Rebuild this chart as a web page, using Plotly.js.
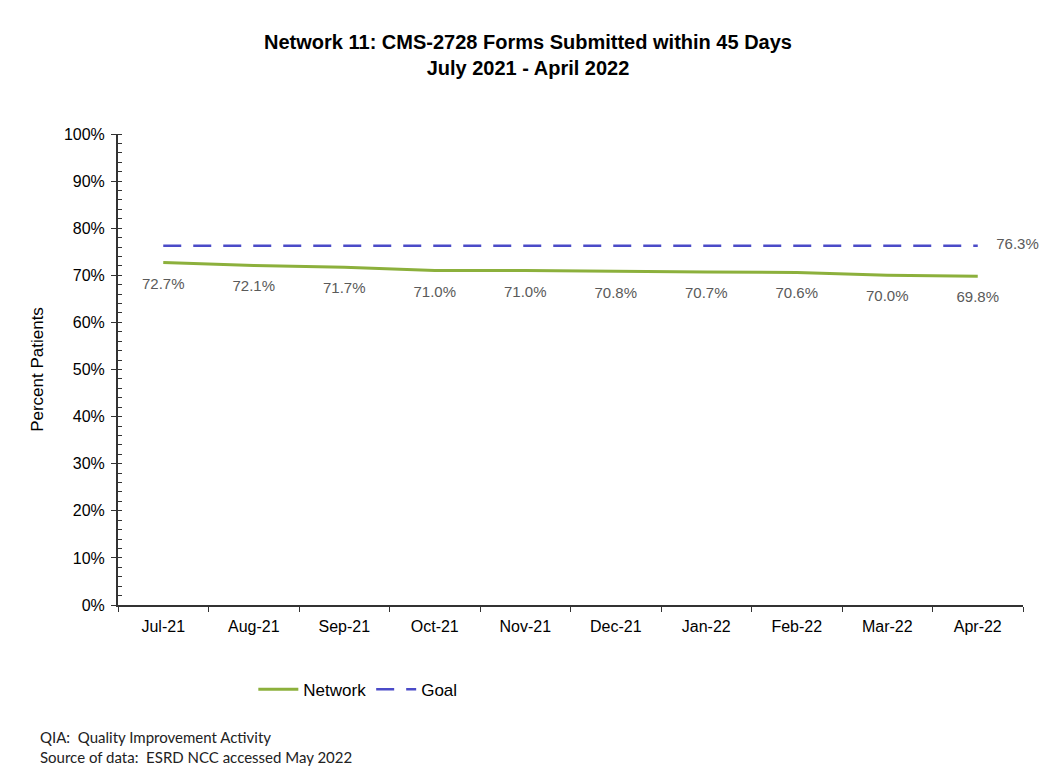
<!DOCTYPE html>
<html>
<head>
<meta charset="utf-8">
<script src="https://cdn.plot.ly/plotly-3.0.1.min.js"></script>
<style>
html,body{margin:0;padding:0;background:#fff;}
#chart{width:1056px;height:772px;}
</style>
</head>
<body>
<div id="chart"></div>
<script>
const months = ["Jul-21","Aug-21","Sep-21","Oct-21","Nov-21","Dec-21","Jan-22","Feb-22","Mar-22","Apr-22"];
const networkValues = [72.7, 72.1, 71.7, 71.0, 71.0, 70.8, 70.7, 70.6, 70.0, 69.8];
const goalValues = [76.3, 76.3, 76.3, 76.3, 76.3, 76.3, 76.3, 76.3, 76.3, 76.3];
const yTickVals = [0,10,20,30,40,50,60,70,80,90,100];
const yTickText = ["0%","10%","20%","30%","40%","50%","60%","70%","80%","90%","100%"];

const networkLabels = networkValues.map(v => v.toFixed(1) + "%");
const goalLabels = goalValues.map((v, i) => i === goalValues.length - 1 ? v.toFixed(1) + "%" : "");

const labelFont = {family: "Liberation Sans, Arial, sans-serif", size: 15, color: "#5a5a5a"};

const traces = [
  {
    x: months, y: networkValues, name: "Network", type: "scatter", mode: "lines+markers+text",
    line: {color: "#8cb03c", width: 3},
    marker: {size: 22, color: "rgba(0,0,0,0)"},
    text: networkLabels, textposition: "bottom center",
    textfont: labelFont,
    cliponaxis: false
  },
  {
    x: months, y: goalValues, name: "Goal", type: "scatter", mode: "lines+markers+text",
    line: {color: "#4b4bc8", width: 2.5, dash: "18px,12px"},
    marker: {size: 28, color: "rgba(0,0,0,0)"},
    text: goalLabels, textposition: "middle right",
    textfont: labelFont,
    cliponaxis: false
  }
];

const layout = {
  width: 1056, height: 772,
  paper_bgcolor: "#ffffff", plot_bgcolor: "#ffffff",
  margin: {l: 118, r: 33, t: 134, b: 167},
  showlegend: true,
  title: {
    text: "<b>Network 11: CMS-2728 Forms Submitted within 45 Days</b><br><b>July 2021 - April 2022</b>",
    font: {family: "Liberation Sans, Arial, sans-serif", size: 20, color: "#000"},
    x: 0.5, xanchor: "center", y: 0.936, yanchor: "top"
  },
  font: {family: "Liberation Sans, Arial, sans-serif", color: "#000"},
  xaxis: {
    type: "category", range: [-0.5, 9.5], tickson: "boundaries",
    ticks: "outside", ticklen: 5, tickcolor: "#333", tickwidth: 1,
    showline: true, linecolor: "#333", linewidth: 2,
    showgrid: false, zeroline: false, ticklabelstandoff: 6,
    tickfont: {size: 16, color: "#000"}
  },
  yaxis: {
    range: [0, 100], tickvals: yTickVals, ticktext: yTickText,
    ticks: "outside", ticklen: 5, tickcolor: "#333", tickwidth: 1,
    minor: {dtick: 2, ticks: "inside", ticklen: 4, tickcolor: "#333", showgrid: false},
    showline: true, linecolor: "#333", linewidth: 2,
    showgrid: false, zeroline: false, ticklabelstandoff: 3,
    tickfont: {size: 16, color: "#000"},
    title: {text: "Percent Patients", font: {size: 17, color: "#000"}, standoff: 16}
  },
  legend: {
    orientation: "h", x: 0.265, xanchor: "center", y: -0.18, yanchor: "middle",
    font: {size: 17, color: "#000"}, itemwidth: 40, traceorder: "normal",
    bgcolor: "rgba(0,0,0,0)"
  },
  annotations: [
    {text: "QIA:  Quality Improvement Activity", xref: "paper", yref: "paper",
     x: -0.088, xanchor: "left", y: -0.28, yanchor: "middle", showarrow: false, align: "left",
     font: {family: "Lato, Noto Sans, sans-serif", size: 15, color: "#222"}},
    {text: "Source of data:  ESRD NCC accessed May 2022", xref: "paper", yref: "paper",
     x: -0.088, xanchor: "left", y: -0.323, yanchor: "middle", showarrow: false, align: "left",
     font: {family: "Lato, Noto Sans, sans-serif", size: 15, color: "#222"}}
  ]
};

Plotly.newPlot("chart", traces, layout, {displayModeBar: false, staticPlot: true});
</script>
</body>
</html>
